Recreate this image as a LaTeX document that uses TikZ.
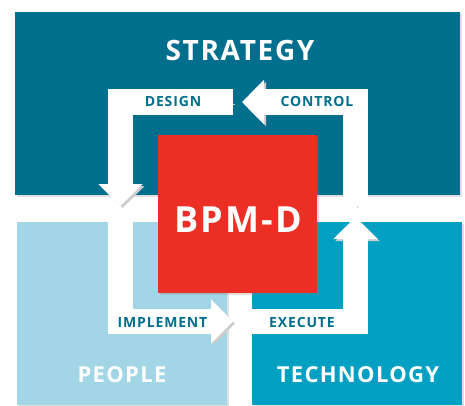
\documentclass[tikz,border=0pt]{standalone}
\usepackage{fontspec}
\setmainfont{Open Sans}
\newfontfamily\capsfont{Open Sans}[LetterSpace=6]
\usetikzlibrary{arrows.meta,shadows,positioning}
\definecolor{stratblue}{RGB}{0,111,141}
\definecolor{peopleblue}{RGB}{162,213,229}
\definecolor{techblue}{RGB}{0,160,194}
\definecolor{bpmred}{RGB}{236,47,36}
\tikzstyle{box} = [rectangle, anchor=north west, inner sep=0pt, drop shadow={shadow xshift=2pt, shadow yshift=-2pt, opacity=0.25}]
\tikzstyle{title} = [text=white, inner sep=0pt, font=\capsfont\bfseries\fontsize{28}{30}\selectfont]
\tikzstyle{subtitle} = [text=white, inner sep=0pt, font=\capsfont\bfseries\fontsize{22}{24}\selectfont]
\tikzstyle{tag} = [text=stratblue, inner sep=0pt, font=\capsfont\bfseries\fontsize{14}{16}\selectfont]
\tikzstyle{flow} = [draw=white, line width=25.5pt, line join=miter, -{Triangle[length=22pt, width=43pt]}, preaction={draw=black!20, transform canvas={shift={(2pt,-2pt)}}}]

\begin{document}
\begin{tikzpicture}[x=1pt, y=-1pt]
\useasboundingbox (0,0) rectangle (465,405);

\node [box, fill=stratblue, minimum width=445pt, minimum height=183pt] (strategy) at (15,12) {};
\node [box, fill=peopleblue, minimum width=210pt, minimum height=183pt] (people) at (17,222) {};
\node [box, fill=techblue, minimum width=210pt, minimum height=183pt] (tech) at (252,222) {};
\node [box, fill=bpmred, minimum width=159pt, minimum height=158pt] (bpmd) at (158,135) {};

\node [title] (stratlbl) at (240,50) {STRATEGY};
\node [subtitle] (peoplelbl) at (122,375) {PEOPLE};
\node [subtitle] (techlbl) at (358,375) {TECHNOLOGY};
\node [title, font=\capsfont\bfseries\fontsize{36}{40}\selectfont] (bpmlbl) at (238,220) {BPM-D};

% cycle arrows
\coordinate (design_s) at (233,102);
\coordinate (design_c) at (120.5,102);
\coordinate (design_t) at (120.5,206);
\coordinate (impl_s) at (120.5,217);
\coordinate (impl_c) at (120.5,321.5);
\coordinate (impl_t) at (233,321.5);
\coordinate (exec_s) at (242,321.5);
\coordinate (exec_c) at (355.5,321.5);
\coordinate (exec_t) at (355.5,217);
\coordinate (ctrl_s) at (355.5,206);
\coordinate (ctrl_c) at (355.5,102);
\coordinate (ctrl_t) at (242,102);

\draw [flow] (design_s) -- (design_c) -- (design_t);
\draw [flow] (impl_s) -- (impl_c) -- (impl_t);
\draw [flow] (exec_s) -- (exec_c) -- (exec_t);
\draw [flow] (ctrl_s) -- (ctrl_c) -- (ctrl_t);

\node [tag] (designlbl) at (173,101) {DESIGN};
\node [tag] (ctrllbl) at (317,101) {CONTROL};
\node [tag] (impllbl) at (162.5,322) {IMPLEMENT};
\node [tag] (execlbl) at (302,322) {EXECUTE};

\end{tikzpicture}
\end{document}
